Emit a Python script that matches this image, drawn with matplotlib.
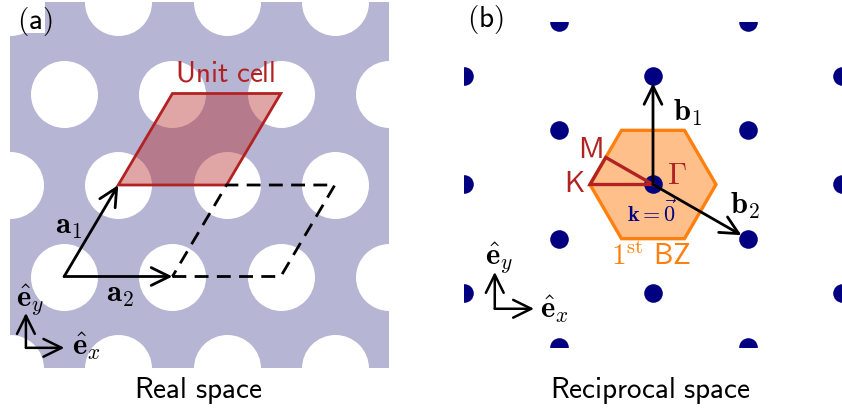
import numpy as np
import matplotlib
matplotlib.use('Agg')
import matplotlib.pyplot as plt
from matplotlib.patches import Polygon, Rectangle, FancyArrowPatch

plt.rcParams['mathtext.fontset'] = 'cm'

# real space lattice (lattice constant = 1)
a1 = np.array([0.5, np.sqrt(3) / 2])
a2 = np.array([1.0, 0.0])
hole_radius_px = 33.5

# reciprocal lattice (|b| = 1)
b1 = np.array([0.0, 1.0])
b2 = np.array([np.sqrt(3) / 2, -0.5])
dot_radius_px = 9.3

lavender = '#b7b5d4'
red = '#b22222'
navy = '#000080'
orange = '#ff800e'
orange_fill = '#ffbf8a'

fig = plt.figure(figsize=(8.42, 4.09), dpi=100)


def arrow(ax, p0, p1, lw=2.0, shrink=0):
    ax.add_patch(FancyArrowPatch(tuple(p0), tuple(p1),
                                 arrowstyle='->,head_length=0.65,head_width=0.32',
                                 mutation_scale=20, lw=lw, color='k',
                                 shrinkA=0, shrinkB=shrink, zorder=6))


def hide(ax):
    ax.set_xticks([])
    ax.set_yticks([])
    for s in ax.spines.values():
        s.set_visible(False)


# ---------------- (a) real space ----------------
ax = fig.add_axes([10 / 842, 1 - 368 / 409, 379 / 842, 366 / 409])
ax.set_xlim(-0.5, 3.0)
ax.set_ylim(-np.sqrt(3) / 2, 3 * np.sqrt(3) / 2)
ax.set_facecolor(lavender)
hide(ax)

pts = np.array([i * a2 + j * a1 for i in range(-3, 6) for j in range(-2, 5)])
s_hole = (2 * hole_radius_px * 72 / 100) ** 2
ax.scatter(pts[:, 0], pts[:, 1], s=s_hole, color='white', linewidths=0, zorder=1)
ax.add_patch(Rectangle((-0.5, 2.305), 0.323, 0.4, color='white', lw=0, zorder=1))

o = np.zeros(2)
cell = np.array([a1, a1 + a2, 2 * a1 + a2, 2 * a1])
ax.add_patch(Polygon(cell, closed=True, facecolor=red, alpha=0.4, lw=0, zorder=2))
ax.add_patch(Polygon(cell, closed=True, fill=False, edgecolor=red, lw=2, zorder=3))

dash = np.array([a2, 2 * a2, 2 * a2 + a1, a2 + a1, a2])
ax.plot(dash[:, 0], dash[:, 1], color='k', lw=2, ls=(0, (5, 3)), zorder=3)

arrow(ax, o, a1)
arrow(ax, o, a2)
ax.text(1.485, 1.917, r'$\mathsf{Unit\ cell}$', color=red, fontsize=21,
        ha='center', va='center')
ax.text(0.045, 0.469, r'$\mathbf{a}_1$', fontsize=22, ha='center', va='center')
ax.text(0.515, -0.166, r'$\mathbf{a}_2$', fontsize=22, ha='center', va='center')

c = np.array([-0.353, -0.675])
arrow(ax, c, c + [0, 0.33], lw=1.8)
arrow(ax, c, c + [0.355, 0], lw=1.8)
ax.text(-0.317, -0.222, r'$\hat{\mathbf{e}}_y$', fontsize=22, ha='center', va='center')
ax.text(0.201, -0.657, r'$\hat{\mathbf{e}}_x$', fontsize=22, ha='center', va='center')

# ---------------- (b) reciprocal space ----------------
bx = fig.add_axes([464 / 842, 1 - 347 / 409, 378 / 842, 325 / 409])
bx.set_xlim(-np.sqrt(3), np.sqrt(3))
bx.set_ylim(-1.5, 1.5)
hide(bx)
bx.set_facecolor('white')

R = 1 / np.sqrt(3)
hexagon = np.array([[R * np.cos(t), R * np.sin(t)] for t in np.radians(np.arange(0, 360, 60))])
bx.add_patch(Polygon(hexagon, closed=True, facecolor=orange_fill, edgecolor=orange,
                     lw=2.4, zorder=1))

gpts = np.array([i * b1 + j * b2 for i in range(-4, 5) for j in range(-3, 4)])
s_dot = (2 * dot_radius_px * 72 / 100) ** 2
bx.scatter(gpts[:, 0], gpts[:, 1], s=s_dot, color=navy, linewidths=0, zorder=2)

K = np.array([-R, 0.0])
M = (hexagon[3] + hexagon[2]) / 2
path = np.array([[0, 0], K, M, [0, 0]])
bx.plot(path[:, 0], path[:, 1], color=red, lw=2.4, solid_joinstyle='miter', zorder=4)

arrow(bx, o, b1, shrink=5)
arrow(bx, o, b2, shrink=5)

bx.text(-0.578, 0.321, r'$\mathsf{M}$', color=red, fontsize=21, ha='center', va='center')
bx.text(-0.716, 0.0, r'$\mathsf{K}$', color=red, fontsize=21, ha='center', va='center')
bx.text(0.22, 0.083, r'$\Gamma$', color=red, fontsize=22, ha='center', va='center')
bx.text(-0.01, -0.266, r'$\mathbf{k}=\vec{0}$', color=navy, fontsize=16,
        ha='center', va='center')
bx.text(-0.018, -0.67, r'$1^{\mathrm{st}}\ \mathsf{BZ}$', color=orange, fontsize=21,
        ha='center', va='center')
bx.text(0.32, 0.66, r'$\mathbf{b}_1$', fontsize=22, ha='center', va='center')
bx.text(0.844, -0.193, r'$\mathbf{b}_2$', fontsize=22, ha='center', va='center')

c = np.array([-1.45, -1.147])
arrow(bx, c, c + [0, 0.34], lw=1.8)
arrow(bx, c, c + [0.36, 0], lw=1.8)
bx.text(-1.413, -0.679, r'$\hat{\mathbf{e}}_y$', fontsize=22, ha='center', va='center')
bx.text(-0.908, -1.147, r'$\hat{\mathbf{e}}_x$', fontsize=22, ha='center', va='center')

# panel labels and captions
fig.text(35 / 842, 1 - 22 / 409, r'$\mathsf{(a)}$', fontsize=21, ha='center', va='center')
fig.text(485 / 842, 1 - 20 / 409, r'$\mathsf{(b)}$', fontsize=21, ha='center', va='center')
fig.text(198 / 842, 1 - 398 / 409, r'$\mathsf{Real\ space}$', fontsize=21,
         ha='center', va='baseline')
fig.text(650 / 842, 1 - 398 / 409, r'$\mathsf{Reciprocal\ space}$', fontsize=21,
         ha='center', va='baseline')

fig.savefig('out.png', dpi=100)
